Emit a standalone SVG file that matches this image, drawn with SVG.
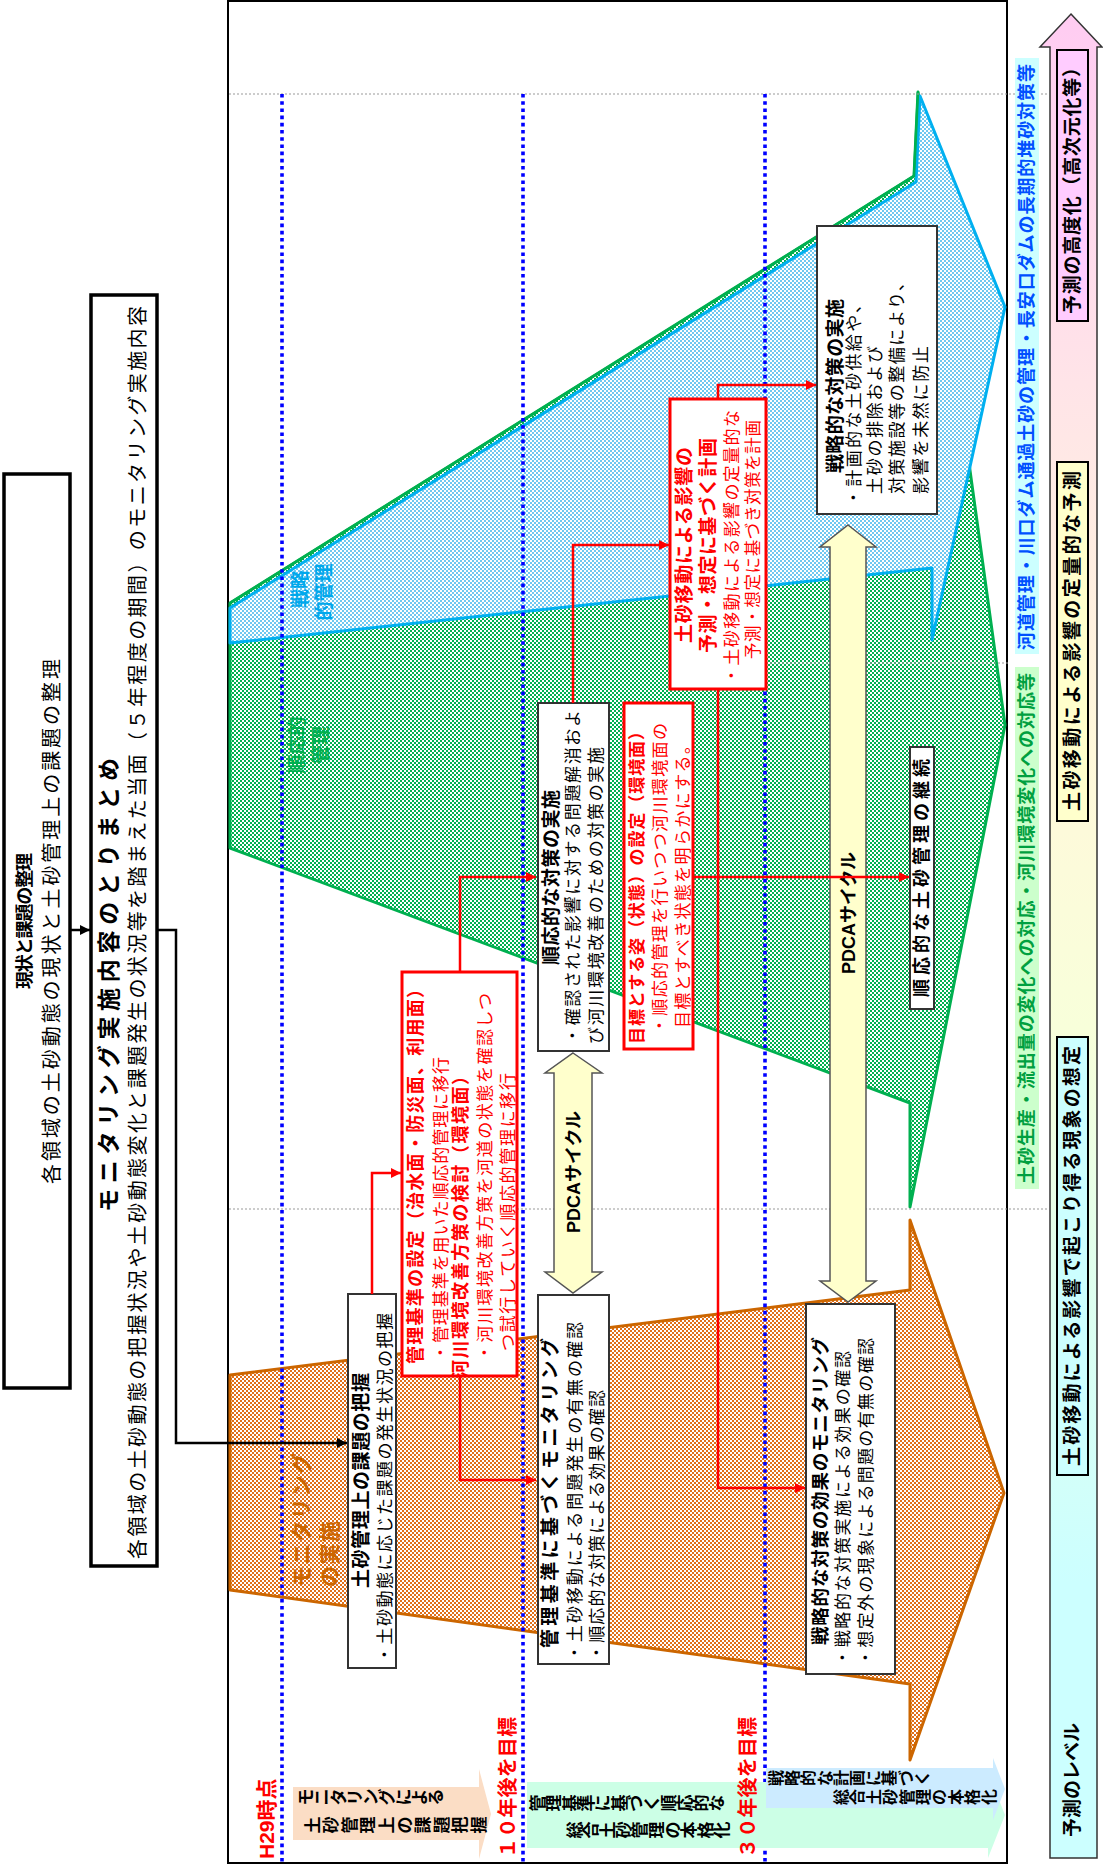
<svg xmlns="http://www.w3.org/2000/svg" width="1103" height="1865" viewBox="0 0 1103 1865">
<defs>
<style>
.t{font-family:'Liberation Sans','Noto Sans CJK JP',sans-serif;dominant-baseline:central;fill:#000;}
.v{font-family:'Liberation Sans','Noto Sans CJK JP',sans-serif;font-weight:700;fill:#000;}
.b{font-weight:700;}
.rd{fill:#FF0000;}
.box{fill:#fff;stroke:#333;stroke-width:2;}
.rbox{fill:#fff;stroke:#FF0000;stroke-width:3;}
.tbox{fill:#fff;stroke:#000;stroke-width:3.5;}
.cr{fill:none;stroke:#FF0000;stroke-width:2.5;marker-end:url(#aR);}
.ck{fill:none;stroke:#000;stroke-width:2.5;marker-end:url(#aK);}
.bd{stroke:#0000FF;stroke-width:3.6;stroke-dasharray:3.6 3.6;}
.gd{stroke:#999;stroke-width:1.2;stroke-dasharray:2 2;}
.pdca{fill:#FFFFCC;stroke:#555;stroke-width:1.5;}
.lab{stroke:#000;stroke-width:2;}
</style>
<pattern id="pg" width="4" height="4" patternUnits="userSpaceOnUse"><rect width="4" height="4" fill="#fff"/><path d="M0,0h2v2h-2zM2,2h2v2h-2z" fill="#00B050"/></pattern>
<pattern id="pb" width="4" height="4" patternUnits="userSpaceOnUse"><rect width="4" height="4" fill="#fff"/><path d="M0,0h2v2h-2zM2,2h2v2h-2z" fill="#6FC8F0"/></pattern>
<pattern id="po" width="4" height="4" patternUnits="userSpaceOnUse"><rect width="4" height="4" fill="#fff"/><path d="M0,0h2v2h-2zM2,2h2v2h-2z" fill="#E0701A"/></pattern>
<linearGradient id="gLv" x1="0" y1="0" x2="0" y2="1">
<stop offset="0" stop-color="#FFCCF2"/><stop offset="0.2" stop-color="#FFE4E8"/><stop offset="0.4" stop-color="#FFF8DA"/><stop offset="0.55" stop-color="#F8FFDA"/><stop offset="0.7" stop-color="#DDFFF0"/><stop offset="0.85" stop-color="#CCFFFF"/><stop offset="1" stop-color="#CCFFFF"/>
</linearGradient>
<marker id="aR" viewBox="0 0 10 10" refX="10" refY="5" markerWidth="11" markerHeight="10" orient="auto" markerUnits="userSpaceOnUse"><path d="M0,0L10,5L0,10z" fill="#FF0000"/></marker>
<marker id="aK" viewBox="0 0 10 10" refX="10" refY="5" markerWidth="11" markerHeight="10" orient="auto" markerUnits="userSpaceOnUse"><path d="M0,0L10,5L0,10z" fill="#000"/></marker>
</defs>
<rect width="1103" height="1865" fill="#fff"/>

<g id="frame"><rect x="228" y="1" width="779" height="1862" fill="#fff" stroke="#000" stroke-width="2"/></g>

<g id="wedges">
<polygon id="w-green" points="230,603 914,176 918,92 1005,725 910,1207 910,1103 230,848" fill="url(#pg)" stroke="#00B050" stroke-width="3" stroke-linejoin="round"/>
<polygon id="w-blue" points="230,608 916,182 920,96 1005,307 932,640 932,568 230,643" fill="url(#pb)" stroke="#00B0F0" stroke-width="3" stroke-linejoin="round"/>
<polyline points="230,603 914,176 918,92" fill="none" stroke="#00B050" stroke-width="2.5"/>
<polygon id="w-orange" points="230,1375 910,1290 910,1220 1004,1493 910,1760 910,1684 230,1590" fill="url(#po)" stroke="#CC6600" stroke-width="3" stroke-linejoin="round"/>
<text class="t b" font-size="19" style="fill:#00A8EC" transform="translate(300,589) rotate(-90)" text-anchor="middle">戦略</text>
<text class="t b" font-size="19" style="fill:#00A8EC" transform="translate(324,592) rotate(-90)" text-anchor="middle">的管理</text>
<text class="t b" font-size="19" style="fill:#00B050" transform="translate(297,745) rotate(-90)" text-anchor="middle">順応的</text>
<text class="t b" font-size="19" style="fill:#00B050" transform="translate(321,745) rotate(-90)" text-anchor="middle">管理</text>
<text class="t b" font-size="21" style="fill:#CC6600" transform="translate(301,1587) rotate(-90)" textLength="134">モニタリング</text>
<text class="t b" font-size="21" style="fill:#CC6600" transform="translate(329,1587) rotate(-90)" textLength="66">の実施</text>
</g>

<g id="guides">
<line class="gd" x1="229" y1="94" x2="1048" y2="94"/>
<line class="gd" x1="766" y1="663" x2="1008" y2="663"/>
<line class="gd" x1="229" y1="1209" x2="1048" y2="1209"/>
<line class="bd" x1="282" y1="94" x2="282" y2="1862"/>
<line class="bd" x1="523" y1="94" x2="523" y2="1862"/>
<line class="bd" x1="765" y1="94" x2="765" y2="1862"/>
</g>

<g id="timeline">
<polygon points="293,1787 479,1787 479,1769 491,1814 479,1859 479,1840 293,1840" fill="#FBDDC5"/>
<polygon points="527,1782 988,1782 988,1772 1005,1815 988,1858 988,1848 527,1848" fill="#CCFFE6"/>
<polygon points="766,1768 993,1768 993,1758 1005,1789 993,1820 993,1808 766,1808" fill="#CCEBFF"/>
<text class="v" font-size="17" x="312" y="1805.5" rotate="-90" letter-spacing="-0.75">モニタリングによる</text>
<text class="v" font-size="17" x="319" y="1833.5" rotate="-90" letter-spacing="1.4">土砂管理上の課題把握</text>
<text class="v" font-size="17" x="544" y="1811.5" rotate="-90" letter-spacing="-0.7">管理基準に基づく順応的な</text>
<text class="v" font-size="17" x="581" y="1838.5" rotate="-90" letter-spacing="-0.7">総合土砂管理の本格化</text>
<text class="v" font-size="16" x="782" y="1786" rotate="-90" letter-spacing="0.2">戦略的な計画に基づく</text>
<text class="v" font-size="16" x="847" y="1805" rotate="-90" letter-spacing="0.4">総合土砂管理の本格化</text>
<text class="t b rd" font-size="21" transform="translate(266,1859) rotate(-90)">H29時点</text>
<text class="t b rd" font-size="20" transform="translate(508,1858) rotate(-90)" textLength="141">１０年後を目標</text>
<text class="t b rd" font-size="20" transform="translate(748,1858) rotate(-90)" textLength="141">３０年後を目標</text>
</g>

<g id="n-genjo">
<rect class="tbox" x="4" y="474" width="66" height="914"/>
<text class="t b" style="font-size:18px" text-anchor="middle" transform="translate(25,921) rotate(-90)" textLength="136">現状と課題の整理</text>
<text class="t" font-size="20" transform="translate(52,1184) rotate(-90)" textLength="525">各領域の土砂動態の現状と土砂管理上の課題の整理</text>
</g>
<g id="n-matome">
<rect class="tbox" x="91" y="295" width="66" height="1271"/>
<text class="t b" font-size="23" transform="translate(109,1212) rotate(-90)" textLength="454">モニタリング実施内容のとりまとめ</text>
<text class="t" font-size="20" transform="translate(138,1559) rotate(-90)" textLength="1253">各領域の土砂動態の把握状況や土砂動態変化と課題発生の状況等を踏まえた当面（５年程度の期間）のモニタリング実施内容</text>
</g>
<g id="n-haaku">
<rect class="box" x="348" y="1294" width="48" height="374"/>
<text class="t b" font-size="19" transform="translate(361,1588) rotate(-90)" textLength="215">土砂管理上の課題の把握</text>
<text class="t" font-size="17" transform="translate(385,1663) rotate(-90)" textLength="350">・土砂動態に応じた課題の発生状況の把握</text>
</g>
<g id="n-kijun">
<rect class="rbox" x="402" y="972" width="115" height="404"/>
<text class="t b rd" font-size="18" transform="translate(416,1364) rotate(-90)" textLength="384">管理基準の設定（治水面・防災面、利用面）</text>
<text class="t rd" font-size="17" transform="translate(441,1361) rotate(-90)" textLength="304">・管理基準を用いた順応的管理に移行</text>
<text class="t b rd" font-size="18" transform="translate(461,1378) rotate(-90)" textLength="311">河川環境改善方策の検討（環境面）</text>
<text class="t rd" font-size="17" transform="translate(485,1361) rotate(-90)" textLength="368">・河川環境改善方策を河道の状態を確認しつ</text>
<text class="t rd" font-size="17" transform="translate(508,1351) rotate(-90)" textLength="278">つ試行していく順応的管理に移行</text>
</g>
<g id="n-kijunmon">
<rect class="box" x="538" y="1295" width="71" height="369"/>
<text class="t b" font-size="19" transform="translate(550,1648) rotate(-90)" textLength="310">管理基準に基づくモニタリング</text>
<text class="t" font-size="17" transform="translate(575,1661) rotate(-90)" textLength="339">・土砂移動による問題発生の有無の確認</text>
<text class="t" font-size="17" transform="translate(597,1661) rotate(-90)" textLength="271">・順応的な対策による効果の確認</text>
</g>
<g id="n-junno">
<rect class="box" x="538" y="703" width="71" height="348"/>
<text class="t b" font-size="19" transform="translate(551,965) rotate(-90)" textLength="175">順応的な対策の実施</text>
<text class="t" font-size="17" transform="translate(573,1044) rotate(-90)" textLength="334">・確認された影響に対する問題解消およ</text>
<text class="t" font-size="17" transform="translate(596,1044) rotate(-90)" textLength="297">び河川環境改善のための対策の実施</text>
</g>
<g id="n-mokuhyo">
<rect class="rbox" x="624" y="703" width="69" height="346"/>
<text class="t b rd" font-size="17" transform="translate(637,1044) rotate(-90)" textLength="321">目標とする姿（状態）の設定（環境面）</text>
<text class="t rd" font-size="17" transform="translate(660,1034) rotate(-90)" textLength="311">・順応的管理を行いつつ河川環境面の</text>
<text class="t rd" font-size="17" transform="translate(683,1028) rotate(-90)" textLength="291">目標とすべき状態を明らかにする。</text>
</g>
<g id="n-yosoku">
<rect class="rbox" x="670" y="399" width="96" height="290"/>
<text class="t b rd" font-size="19" transform="translate(684,643) rotate(-90)" textLength="196">土砂移動による影響の</text>
<text class="t b rd" font-size="19" transform="translate(708,653) rotate(-90)" textLength="215">予測・想定に基づく計画</text>
<text class="t rd" font-size="17" transform="translate(732,684) rotate(-90)" textLength="274">・土砂移動による影響の定量的な</text>
<text class="t rd" font-size="16.5" transform="translate(753,659) rotate(-90)" textLength="239">予測・想定に基づき対策を計画</text>
</g>
<g id="n-senryaku">
<rect class="box" x="817" y="226" width="120" height="288"/>
<text class="t b" font-size="19" transform="translate(835,473) rotate(-90)" textLength="174">戦略的な対策の実施</text>
<text class="t" font-size="17" transform="translate(854,506) rotate(-90)" textLength="210">・計画的な土砂供給や、</text>
<text class="t" font-size="17" transform="translate(875,494) rotate(-90)" textLength="148">土砂の排除および</text>
<text class="t" font-size="17" transform="translate(897,494) rotate(-90)" textLength="220">対策施設等の整備により、</text>
<text class="t" font-size="17" transform="translate(921,494) rotate(-90)" textLength="148">影響を未然に防止</text>
</g>
<g id="n-kouka">
<rect class="box" x="806" y="1304" width="89" height="370"/>
<text class="t b" font-size="18.5" transform="translate(820,1645) rotate(-90)" textLength="308">戦略的な対策の効果のモニタリング</text>
<text class="t" font-size="17" transform="translate(843,1666) rotate(-90)" textLength="315">・戦略的な対策実施による効果の確認</text>
<text class="t" font-size="17" transform="translate(866,1666) rotate(-90)" textLength="328">・想定外の現象による問題の有無の確認</text>
</g>
<g id="n-keizoku">
<rect class="box" x="910" y="747" width="24" height="262"/>
<text class="t b" font-size="18" text-anchor="middle" transform="translate(922,878) rotate(-90)" textLength="238">順応的な土砂管理の継続</text>
</g>
<g id="pdca-1">
<polygon class="pdca" points="573,1053 602,1073 592,1073 592,1272 602,1272 573,1293 545,1272 554,1272 554,1073 545,1073"/>
<text class="t b" font-size="18" text-anchor="middle" transform="translate(574,1172) rotate(-90)">PDCAサイクル</text>
</g>
<g id="pdca-2">
<polygon class="pdca" points="848,525 876,547 866,547 866,1281 876,1281 848,1302 820,1281 830,1281 830,547 820,547"/>
<text class="t b" font-size="18" text-anchor="middle" transform="translate(849,913) rotate(-90)">PDCAサイクル</text>
</g>

<g id="connectors">
<polyline class="ck" points="71,930 90,930"/>
<polyline class="ck" points="157,930 176,930 176,1443 347,1443"/>
<polyline class="cr" points="372,1294 372,1173 401,1173"/>
<polyline class="cr" points="460,971 460,877 536,877"/>
<polyline class="cr" points="460,1377 460,1480 536,1480"/>
<polyline class="cr" points="573,703 573,545 669,545"/>
<polyline class="cr" points="693,877 909,877"/>
<polyline class="cr" points="718,689 718,1488 805,1488"/>
<polyline class="cr" points="718,399 718,385 816,385"/>
</g>

<g id="side-labels">
<rect x="1015" y="58" width="24" height="596" fill="#CCFFFF"/>
<text class="t b" font-size="18" style="fill:#0050FF" transform="translate(1027,650) rotate(-90)" textLength="586">河道管理・川口ダム通過土砂の管理・長安口ダムの長期的堆砂対策等</text>
<rect x="1015" y="667" width="24" height="522" fill="#CCFFCC"/>
<text class="t b" font-size="18" style="fill:#00A040" transform="translate(1027,1184) rotate(-90)" textLength="511">土砂生産・流出量の変化への対応・河川環境変化への対応等</text>
</g>
<g id="level-arrow">
<polygon points="1071,14 1102,47 1097,47 1097,1858 1050,1858 1050,47 1040,47" fill="url(#gLv)" stroke="#333" stroke-width="1.5"/>
<rect class="lab" x="1057" y="50" width="31" height="271" fill="#FFCCFF"/>
<text class="t b" font-size="19" text-anchor="middle" transform="translate(1072,186) rotate(-90)" textLength="256">予測の高度化（高次元化等）</text>
<rect class="lab" x="1057" y="462" width="31" height="359" fill="#FFFFCC"/>
<text class="t b" font-size="19" text-anchor="middle" transform="translate(1072,641) rotate(-90)" textLength="340">土砂移動による影響の定量的な予測</text>
<rect class="lab" x="1057" y="1037" width="31" height="438" fill="#CCFFFF"/>
<text class="t b" font-size="19" text-anchor="middle" transform="translate(1072,1256) rotate(-90)" textLength="420">土砂移動による影響で起こり得る現象の想定</text>
<text class="t b" font-size="19" transform="translate(1072,1837) rotate(-90)" textLength="114">予測のレベル</text>
</g>
</svg>
